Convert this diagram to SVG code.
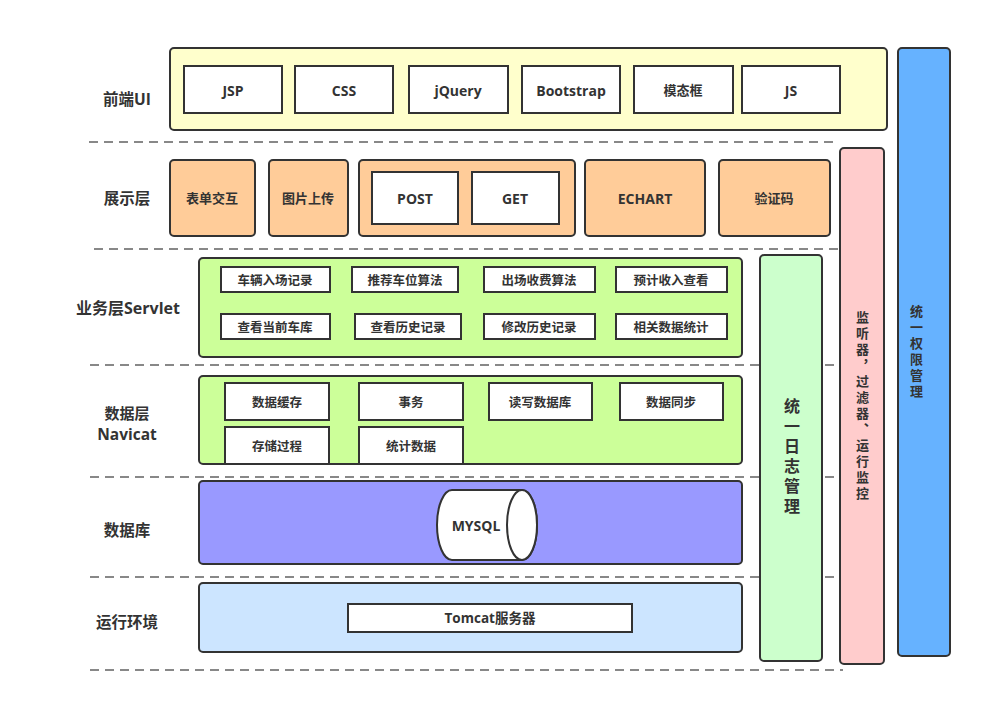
<svg xmlns="http://www.w3.org/2000/svg" width="982" height="702" viewBox="0 0 982 702">
<style>
text{font-family:"Open Sans","Noto Sans CJK SC",sans-serif;font-weight:bold;fill:#333;text-anchor:middle;dominant-baseline:central}
.lbl{font-size:15.5px}
.t{font-size:13px}
.L{font-size:14px}
.s{font-size:12.5px}
.box{stroke:#333;stroke-width:2}
.w{fill:#fff;stroke:#333;stroke-width:2}
.dash{stroke:#888;stroke-width:2;stroke-dasharray:9 6;fill:none}
.v{writing-mode:vertical-rl;text-orientation:upright}
</style>
<rect width="982" height="702" fill="#fff"/>
<g id="connectors">
<line class="dash" x1="89" y1="142" x2="838" y2="142"/>
<line class="dash" x1="94" y1="249" x2="838" y2="249"/>
<line class="dash" x1="90" y1="365" x2="840" y2="365"/>
<line class="dash" x1="90" y1="477" x2="836" y2="477"/>
<line class="dash" x1="90" y1="577" x2="840" y2="577"/>
<line class="dash" x1="90" y1="670" x2="843" y2="670"/>
</g>
<g id="labels">
<text class="lbl" x="127" y="99">前端UI</text>
<text class="lbl" x="127" y="198">展示层</text>
<text class="lbl" x="128" y="308" style="font-size:16px">业务层Servlet</text>
<text class="lbl" x="127" y="413" style="font-size:15px">数据层</text>
<text class="lbl" x="127" y="434" style="font-size:15.5px">Navicat</text>
<text class="lbl" x="127" y="530">数据库</text>
<text class="lbl" x="127" y="622">运行环境</text>
</g>
<g id="frontend">
<rect class="box" x="170" y="48" width="717" height="82" rx="4" fill="#ffffcc"/>
<rect class="w" x="184" y="66" width="98" height="47"/><text class="L" x="233" y="90">JSP</text>
<rect class="w" x="295" y="66" width="98" height="47"/><text class="L" x="344" y="90">CSS</text>
<rect class="w" x="409" y="66" width="99" height="47"/><text class="L" x="458" y="90">jQuery</text>
<rect class="w" x="522" y="66" width="98" height="47"/><text class="L" x="571" y="90">Bootstrap</text>
<rect class="w" x="634" y="66" width="99" height="47"/><text class="t" x="683" y="90">模态框</text>
<rect class="w" x="742" y="66" width="98" height="47"/><text class="L" x="791" y="90">JS</text>
</g>
<g id="display">
<rect class="box" x="170" y="160" width="85" height="76" rx="4" fill="#ffcc99"/><text class="t" x="212" y="198">表单交互</text>
<rect class="box" x="269" y="160" width="79" height="76" rx="4" fill="#ffcc99"/><text class="t" x="308" y="198">图片上传</text>
<rect class="box" x="359" y="160" width="216" height="76" rx="4" fill="#ffcc99"/>
<rect class="w" x="372" y="172" width="86" height="52"/><text class="L" x="415" y="198">POST</text>
<rect class="w" x="472" y="172" width="87" height="52"/><text class="L" x="515" y="198">GET</text>
<rect class="box" x="585" y="160" width="120" height="76" rx="4" fill="#ffcc99"/><text class="L" x="645" y="198">ECHART</text>
<rect class="box" x="719" y="160" width="111" height="76" rx="4" fill="#ffcc99"/><text class="t" x="774" y="198">验证码</text>
</g>
<g id="business">
<rect class="box" x="199" y="258" width="543" height="99" rx="4" fill="#ccff99"/>
<rect class="w" x="221" y="267" width="109" height="25"/><text class="s" x="275" y="280">车辆入场记录</text>
<rect class="w" x="352" y="267" width="106" height="25"/><text class="s" x="405" y="280">推荐车位算法</text>
<rect class="w" x="484" y="267" width="111" height="25"/><text class="s" x="539" y="280">出场收费算法</text>
<rect class="w" x="616" y="267" width="111" height="25"/><text class="s" x="671" y="280">预计收入查看</text>
<rect class="w" x="221" y="314" width="109" height="25"/><text class="s" x="275" y="327">查看当前车库</text>
<rect class="w" x="355" y="314" width="106" height="25"/><text class="s" x="408" y="327">查看历史记录</text>
<rect class="w" x="484" y="314" width="111" height="25"/><text class="s" x="539" y="327">修改历史记录</text>
<rect class="w" x="616" y="314" width="111" height="25"/><text class="s" x="671" y="327">相关数据统计</text>
</g>
<g id="datalayer">
<rect class="box" x="199" y="376" width="543" height="88" rx="4" fill="#ccff99"/>
<rect class="w" x="225" y="383" width="104" height="37"/><text class="s" x="277" y="402">数据缓存</text>
<rect class="w" x="359" y="383" width="104" height="37"/><text class="s" x="411" y="402">事务</text>
<rect class="w" x="489" y="383" width="103" height="37"/><text class="s" x="540" y="402">读写数据库</text>
<rect class="w" x="620" y="383" width="103" height="37"/><text class="s" x="671" y="402">数据同步</text>
<rect class="w" x="225" y="427" width="104" height="37"/><text class="s" x="277" y="446">存储过程</text>
<rect class="w" x="359" y="427" width="104" height="37"/><text class="s" x="411" y="446">统计数据</text>
</g>
<g id="database">
<rect class="box" x="199" y="481" width="543" height="83" rx="4" fill="#9999ff"/>
<path class="w" d="M452,490 L522,490 A15,35 0 0 1 522,560 L452,560 A15,35 0 0 1 452,490 Z"/>
<ellipse class="w" cx="522" cy="525" rx="15" ry="35"/>
<text class="L" x="476" y="525">MYSQL</text>
</g>
<g id="runtime">
<rect class="box" x="199" y="583" width="543" height="69" rx="4" fill="#cce5ff"/>
<rect class="w" x="348" y="604" width="284" height="28"/><text class="s" x="490" y="618" style="font-size:13.5px">Tomcat服务器</text>
</g>
<g id="log">
<rect class="box" x="760" y="255" width="62" height="406" rx="4" fill="#ccffcc"/>
<text class="v" x="791" y="458" style="font-size:16px;letter-spacing:4px">统一日志管理</text>
</g>
<g id="monitor">
<rect class="box" x="840" y="148" width="44" height="516" rx="4" fill="#ffcccc"/>
<text class="v" x="862" y="407" style="font-size:13px;letter-spacing:3px">监听器，过滤器、运行监控</text>
</g>
<g id="auth">
<rect class="box" x="898" y="48" width="52" height="608" rx="4" fill="#66b2ff"/>
<text class="v" x="916" y="353" style="font-size:13px;letter-spacing:3px">统一权限管理</text>
</g>
</svg>
